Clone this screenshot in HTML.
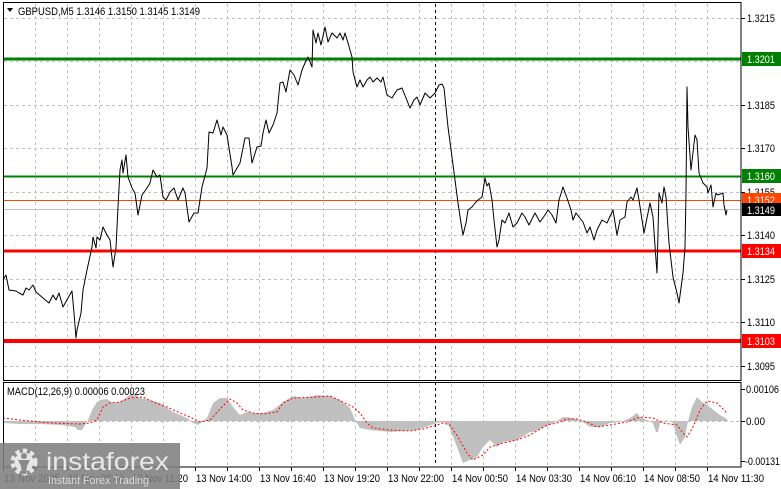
<!DOCTYPE html>
<html><head><meta charset="utf-8">
<style>
html,body{margin:0;padding:0;background:#fff;}
svg{display:block;}
text{font-family:"Liberation Sans",sans-serif;}
</style></head>
<body>
<svg width="781" height="489" viewBox="0 0 781 489" xmlns="http://www.w3.org/2000/svg">
<rect x="0" y="0" width="781" height="489" fill="#fff"/>

<!-- vertical grid -->
<g stroke="#c0c0c0" stroke-width="1" stroke-dasharray="3,3">
<path d="M35.5 4V380M67.5 4V380M99.5 4V380M131.5 4V380M163.5 4V380M195.5 4V380M227.5 4V380M259.5 4V380M291.5 4V380M323.5 4V380M355.5 4V380M387.5 4V380M419.5 4V380M451.5 4V380M483.5 4V380M515.5 4V380M547.5 4V380M579.5 4V380M611.5 4V380M643.5 4V380M675.5 4V380M707.5 4V380"/>
<path d="M35.5 384V466M67.5 384V466M99.5 384V466M131.5 384V466M163.5 384V466M195.5 384V466M227.5 384V466M259.5 384V466M291.5 384V466M323.5 384V466M355.5 384V466M387.5 384V466M419.5 384V466M451.5 384V466M483.5 384V466M515.5 384V466M547.5 384V466M579.5 384V466M611.5 384V466M643.5 384V466M675.5 384V466M707.5 384V466"/>
<!-- horizontal grid -->
<path d="M4 18.5H740M4 61.5H740M4 105.5H740M4 148.5H740M4 192.5H740M4 235.5H740M4 279.5H740M4 322.5H740M4 366.5H740"/>
<path d="M4 421.5H740"/>
</g>

<!-- separator dashed black -->
<path d="M435.5 4V466" stroke="#000" stroke-width="1" stroke-dasharray="3,3"/>

<!-- level lines -->
<line x1="4" y1="59" x2="741" y2="59" stroke="#008000" stroke-width="3"/>
<line x1="4" y1="176.5" x2="741" y2="176.5" stroke="#008000" stroke-width="2"/>
<line x1="4" y1="200.5" x2="741" y2="200.5" stroke="#ff4500" stroke-width="1"/>
<line x1="4" y1="209.5" x2="741" y2="209.5" stroke="#c0c0c0" stroke-width="1"/>
<line x1="4" y1="251" x2="741" y2="251" stroke="#ff0000" stroke-width="3"/>
<line x1="4" y1="341" x2="741" y2="341" stroke="#ff0000" stroke-width="4"/>

<!-- price line -->
<polyline fill="none" stroke="#000" stroke-width="1" stroke-linejoin="round" points="3,280 6,275 9,290 16,291 19,293 23,295 26,288 29,290 33,285 36,292 43,298 49,303 53,295 56,300 59,293 63,307 68,298 72,291 74,313 76,338 77,330 81,313 83,290 87,270 92,247 93,237 96,248 97,237 100,240 103,227 107,235 110,240 113,267 116,248 118,207 120,170 122,160 123,173 126,155 128,177 132,188 135,193 138,215 142,195 147,188 150,183 153,170 157,177 160,175 163,197 166,200 170,192 174,188 178,200 183,188 185,193 189,222 194,213 198,213 202,187 207,168 209,132 213,133 217,120 221,135 223,127 227,135 232,167 233,175 240,163 245,138 249,138 252,163 257,147 261,146 263,133 266,120 269,133 273,125 277,113 280,83 283,82 286,92 290,70 294,75 298,85 302,70 305,63 308,57 312,67 313,30 316,43 318,33 321,45 325,27 328,42 332,33 337,38 340,33 343,40 345,33 348,43 352,57 353,72 357,87 360,80 363,87 367,80 370,77 373,82 377,78 381,82 383,77 387,95 392,98 397,90 402,88 406,98 410,108 414,100 417,97 420,105 425,93 430,98 435,93 439,85 442,84 444,88 448,127 452,157 455,180 458,203 461,223 463,235 466,223 468,210 472,207 475,203 478,200 482,197 485,178 487,186 489,183 492,200 494,220 497,247 499,240 502,220 505,223 509,213 513,227 517,223 522,213 525,217 529,225 535,213 540,222 545,215 548,210 552,215 556,223 559,200 563,187 567,198 571,210 573,220 576,213 579,217 583,222 587,233 590,227 594,240 597,230 602,220 607,223 613,210 617,235 620,220 625,217 627,202 631,197 633,200 637,188 639,200 642,220 644,233 650,203 653,217 656,260 657,273 659,193 662,203 664,187 666,197 669,243 673,277 677,293 679,303 683,273 685,247 686,193 687,87 688,127 691,170 695,135 697,140 699,173 703,183 707,187 708,193 711,185 713,207 716,193 718,195 723,193 724,205 726,215 727,210"/>

<!-- MACD histogram -->
<polygon fill="#c0c0c0" stroke="none" points="3,421 3,423 20,424 40,424 60,425 75,427 78,430 82,430 85,425 88,420 92,410 97,402 100,400 107,399 113,403 120,402 127,397 133,393 140,398 150,400 160,403 167,408 173,412 187,418 193,423 198,425 207,418 213,403 220,398 227,398 233,407 240,415 247,412 253,413 263,413 273,410 283,402 293,396 303,398 317,395 330,396 340,400 350,408 355,420 360,428 370,430 390,432 417,430 437,423 443,422 448,424 457,447 463,463 470,460 477,457 483,447 490,440 497,447 503,442 517,440 530,432 533,432 540,429 547,426 557,421 563,417 573,418 583,422 590,427 600,427 610,423 620,422 630,418 637,413 640,417 647,420 653,423 656,432 658,432 660,423 667,420 673,423 677,437 680,445 685,437 688,421 692,407 697,397 702,402 707,405 720,415 727,419 728,421"/>
<!-- MACD signal -->
<polyline fill="none" stroke="#ff0000" stroke-width="1" stroke-dasharray="2,2" points="3,418 20,420 50,423 80,424 90,423 97,420 103,407 110,403 120,402 130,398 143,397 153,402 167,407 180,413 190,417 200,422 210,420 220,409 230,399 237,403 243,410 253,413 263,414 277,412 283,403 293,398 317,397 330,396 343,402 353,407 360,413 367,423 373,428 390,430 410,431 423,429 437,425 443,423 450,425 458,437 467,453 473,460 483,455 490,447 503,443 517,440 530,435 547,425 557,423 567,419 577,419 587,422 597,427 610,425 627,422 640,417 653,418 663,423 677,425 683,433 687,437 693,427 700,410 707,401 717,403 727,413"/>

<!-- panel borders -->
<rect x="3.5" y="2.5" width="737.5" height="378" fill="none" stroke="#000" stroke-width="1"/>
<rect x="3.5" y="382.5" width="737.5" height="84.5" fill="none" stroke="#000" stroke-width="1"/>

<!-- right axis ticks -->
<g stroke="#000" stroke-width="1">
<path d="M741 18.5H745M741 105.5H745M741 148.5H745M741 192.5H745M741 235.5H745M741 279.5H745M741 322.5H745M741 366.5H745M741 389.5H745M741 421.5H745M741 461.5H745"/>
<path d="M35.5 467V471M99.5 467V471M163.5 467V471M227.5 467V471M291.5 467V471M355.5 467V471M419.5 467V471M483.5 467V471M547.5 467V471M611.5 467V471M675.5 467V471M3.5 467V471M67.5 467V471M131.5 467V471M195.5 467V471M259.5 467V471M323.5 467V471M387.5 467V471M451.5 467V471M515.5 467V471M579.5 467V471M643.5 467V471M707.5 467V471"/>
</g>

<!-- right axis labels -->
<g font-size="11" fill="#000">
<text x="747" y="22" textLength="28" lengthAdjust="spacingAndGlyphs">1.3215</text>
<text x="747" y="109" textLength="28" lengthAdjust="spacingAndGlyphs">1.3185</text>
<text x="747" y="152" textLength="28" lengthAdjust="spacingAndGlyphs">1.3170</text>
<text x="747" y="196" textLength="28" lengthAdjust="spacingAndGlyphs">1.3155</text>
<text x="747" y="239" textLength="28" lengthAdjust="spacingAndGlyphs">1.3140</text>
<text x="747" y="283" textLength="28" lengthAdjust="spacingAndGlyphs">1.3125</text>
<text x="747" y="326" textLength="28" lengthAdjust="spacingAndGlyphs">1.3110</text>
<text x="747" y="370" textLength="28" lengthAdjust="spacingAndGlyphs">1.3095</text>
<text x="746" y="393" textLength="33" lengthAdjust="spacingAndGlyphs">0.00106</text>
<text x="746" y="425" textLength="19" lengthAdjust="spacingAndGlyphs">0.00</text>
<text x="745" y="465" textLength="35" lengthAdjust="spacingAndGlyphs">-0.00131</text>
</g>

<!-- level label boxes -->
<rect x="742" y="52" width="39" height="14" fill="#008000"/>
<text x="747" y="63" font-size="11" fill="#fff" textLength="28" lengthAdjust="spacingAndGlyphs">1.3201</text>
<rect x="742" y="169" width="39" height="14" fill="#008000"/>
<text x="747" y="180" font-size="11" fill="#fff" textLength="28" lengthAdjust="spacingAndGlyphs">1.3160</text>
<rect x="742" y="193" width="39" height="13" fill="#ff4500"/>
<text x="747" y="204" font-size="11" fill="#fff" textLength="28" lengthAdjust="spacingAndGlyphs">1.3152</text>
<rect x="742" y="203" width="39" height="13" fill="#000"/>
<text x="747" y="214" font-size="11" fill="#fff" textLength="28" lengthAdjust="spacingAndGlyphs">1.3149</text>
<rect x="742" y="244" width="39" height="14" fill="#ff0000"/>
<text x="747" y="255" font-size="11" fill="#fff" textLength="28" lengthAdjust="spacingAndGlyphs">1.3134</text>
<rect x="742" y="334" width="39" height="14" fill="#ff0000"/>
<text x="747" y="345" font-size="11" fill="#fff" textLength="28" lengthAdjust="spacingAndGlyphs">1.3103</text>

<!-- header -->
<polygon points="7,8 13,8 10,12" fill="#000"/>
<text x="18" y="15" font-size="11" fill="#000" textLength="182" lengthAdjust="spacingAndGlyphs">GBPUSD,M5  1.3146 1.3150 1.3145 1.3149</text>
<text x="7" y="395" font-size="11" fill="#000" textLength="138" lengthAdjust="spacingAndGlyphs">MACD(12,26,9) 0.00006 0.00023</text>

<!-- bottom labels -->
<g font-size="11" fill="#000">
<text x="4" y="482" textLength="56" lengthAdjust="spacingAndGlyphs">13 Nov 2025</text>
<text x="68" y="482" textLength="56" lengthAdjust="spacingAndGlyphs">13 Nov 08:40</text>
<text x="132" y="482" textLength="56" lengthAdjust="spacingAndGlyphs">13 Nov 11:20</text>
<text x="196" y="482" textLength="56" lengthAdjust="spacingAndGlyphs">13 Nov 14:00</text>
<text x="260" y="482" textLength="56" lengthAdjust="spacingAndGlyphs">13 Nov 16:40</text>
<text x="324" y="482" textLength="56" lengthAdjust="spacingAndGlyphs">13 Nov 19:20</text>
<text x="388" y="482" textLength="56" lengthAdjust="spacingAndGlyphs">13 Nov 22:00</text>
<text x="452" y="482" textLength="56" lengthAdjust="spacingAndGlyphs">14 Nov 00:50</text>
<text x="516" y="482" textLength="56" lengthAdjust="spacingAndGlyphs">14 Nov 03:30</text>
<text x="580" y="482" textLength="56" lengthAdjust="spacingAndGlyphs">14 Nov 06:10</text>
<text x="644" y="482" textLength="56" lengthAdjust="spacingAndGlyphs">14 Nov 08:50</text>
<text x="708" y="482" textLength="56" lengthAdjust="spacingAndGlyphs">14 Nov 11:30</text>
</g>

<!-- watermark logo -->
<rect x="0" y="443" width="180" height="46" fill="#808080" opacity="0.88"/>
<g fill="#e6e6e6">
<circle cx="24" cy="462" r="11" fill="none" stroke="#e6e6e6" stroke-width="5" stroke-dasharray="4,3.2"/>
<circle cx="24" cy="462" r="9.5"/>
<circle cx="24" cy="456" r="3" fill="#8a8a8a"/>
<path d="M18 460 L30 460 L27 466 L26 474 L22 474 L21 466 Z" fill="#8a8a8a"/>
</g>
<text x="46" y="470" font-size="25" fill="#e8e8e8" textLength="123" lengthAdjust="spacingAndGlyphs">instaforex</text>
<text x="48" y="484" font-size="11" fill="#dcdcdc" textLength="101" lengthAdjust="spacingAndGlyphs">Instant Forex Trading</text>
</svg>
</body></html>
